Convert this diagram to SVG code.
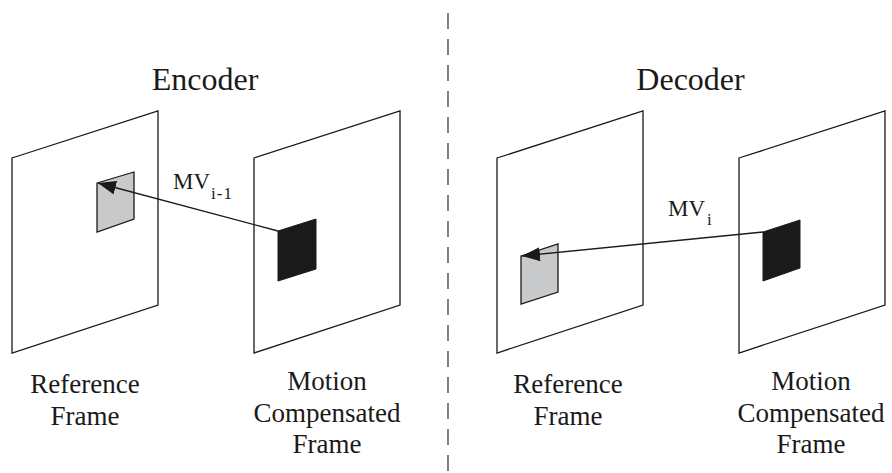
<svg xmlns="http://www.w3.org/2000/svg" width="892" height="473" viewBox="0 0 892 473">
<style>
.frame{fill:none;stroke:#1a1a1a;stroke-width:1.3;stroke-linejoin:miter}
.ref{fill:#c8c9cb;stroke:#1a1a1a;stroke-width:1.3}
.mc{fill:#1a1a1a;stroke:#1a1a1a;stroke-width:1}
.t{font-family:"Liberation Serif","Times New Roman",serif;fill:#1a1a1a}
.title{font-size:32px;text-anchor:middle}
.lab{font-size:27px;text-anchor:middle}
.mv{font-size:23px}
.sub{font-size:17px}
.conn{stroke:#1a1a1a;stroke-width:1.3;fill:none}
.divider{stroke:#1a1a1a;stroke-width:1.1;stroke-dasharray:16 10}
</style>
<defs>
<marker id="ah" viewBox="0 -7 18 14" refX="18" refY="0" markerWidth="18" markerHeight="14" markerUnits="userSpaceOnUse" orient="auto">
<path d="M0,-7 L18,0 L0,7 z" fill="#1a1a1a"/>
</marker>
</defs>
<rect width="892" height="473" fill="#fff"/>
<line class="divider" x1="448" y1="13" x2="448" y2="473"/>
<text class="t title" x="205" y="90">Encoder</text>
<text class="t title" x="690.5" y="90">Decoder</text>
<g id="enc-ref">
<polygon class="frame" points="12,158 158,111 158,305 12,353"/>
<polygon class="ref" points="97,183 134,172 134,219 97,232"/>
<text class="t lab" x="85" y="393">Reference</text>
<text class="t lab" x="85" y="425">Frame</text>
</g>
<g id="enc-mc">
<polygon class="frame" points="254,158 400,111 400,305 254,353"/>
<polygon class="mc" points="278,231 316,219 316,269 278,281"/>
<text class="t lab" x="327" y="390">Motion</text>
<text class="t lab" x="327" y="422">Compensated</text>
<text class="t lab" x="327" y="453">Frame</text>
</g>
<g id="dec-ref">
<polygon class="frame" points="497,158 643,111 643,305 497,353"/>
<polygon class="ref" points="521,256 558,244 558,292 521,304"/>
<text class="t lab" x="568" y="393">Reference</text>
<text class="t lab" x="568" y="425">Frame</text>
</g>
<g id="dec-mc">
<polygon class="frame" points="739,158 885,111 885,305 739,353"/>
<polygon class="mc" points="763,232 800,220 800,268 763,281"/>
<text class="t lab" x="811" y="390">Motion</text>
<text class="t lab" x="811" y="422">Compensated</text>
<text class="t lab" x="811" y="453">Frame</text>
</g>
<g id="connectors">
<line class="conn" x1="278" y1="231" x2="98" y2="183" marker-end="url(#ah)"/>
<text class="t mv" x="173" y="189">MV<tspan class="sub" dy="10" dx="1" letter-spacing="1">i-1</tspan></text>
<line class="conn" x1="763" y1="232" x2="522" y2="256" marker-end="url(#ah)"/>
<text class="t mv" x="668" y="216">MV<tspan class="sub" dy="9" dx="2">i</tspan></text>
</g>
</svg>
